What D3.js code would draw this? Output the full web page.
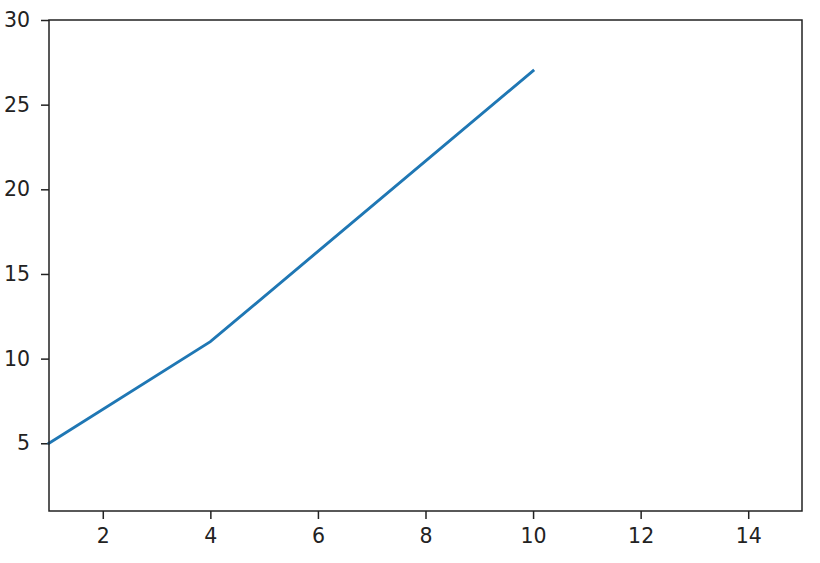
<!DOCTYPE html>
<html>
<head>
<meta charset="utf-8">
<script src="https://cdn.jsdelivr.net/npm/d3@7"></script>
<style>
  html, body { margin: 0; padding: 0; background: #fff; }
  svg { display: block; }
  .tick text { font-family: "DejaVu Sans", sans-serif; font-size: 20.5px; fill: #222; }
</style>
</head>
<body>
<svg id="chart"></svg>
<script>
// data
const xValues = [1, 4, 10];
const yValues = [5, 11, 27];
const xTicks = [2, 4, 6, 8, 10, 12, 14];
const yTicks = [5, 10, 15, 20, 25, 30];

const W = 820, H = 563;
const margin = { top: 20, right: 18, bottom: 52, left: 49 };
const width = W - margin.left - margin.right;
const height = H - margin.top - margin.bottom;

const svg = d3.select('#chart')
  .attr('width', W)
  .attr('height', H);

const g = svg.append('g')
  .attr('transform', `translate(${margin.left},${margin.top})`);

const x = d3.scaleLinear().domain([1, 15]).range([0, width]);
const y = d3.scaleLinear().domain([1, 30]).range([height, 0]);

// axes
const xAxis = d3.axisBottom(x).tickValues(xTicks).tickSize(8).tickPadding(9);
const yAxis = d3.axisLeft(y).tickValues(yTicks).tickSize(8).tickPadding(11);

const gx = g.append('g')
  .attr('transform', `translate(0,${height})`)
  .call(xAxis);
const gy = g.append('g').call(yAxis);

[gx, gy].forEach(a => {
  a.select('.domain').remove();
  a.selectAll('.tick line').attr('stroke', '#222').attr('stroke-width', 1.5);
});

// line
const line = d3.line()
  .x((d, i) => x(xValues[i]))
  .y(d => y(d));

g.append('path')
  .datum(yValues)
  .attr('fill', 'none')
  .attr('stroke', '#1f77b4')
  .attr('stroke-width', 2.9)
  .attr('stroke-linecap', 'square')
  .attr('d', line);

// frame
g.append('rect')
  .attr('width', width)
  .attr('height', height)
  .attr('fill', 'none')
  .attr('stroke', '#222')
  .attr('stroke-width', 1.5);
</script>
</body>
</html>
